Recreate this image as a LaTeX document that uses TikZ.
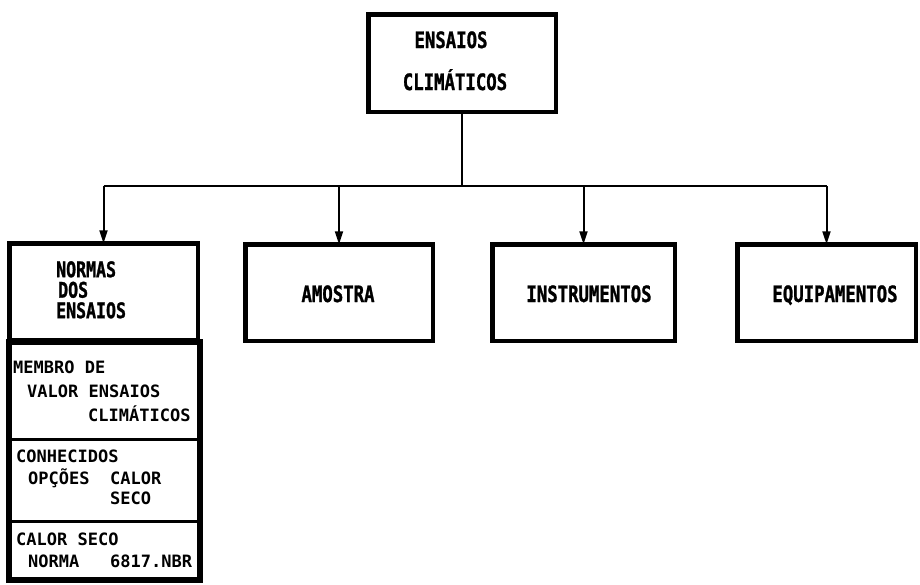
\documentclass[tikz,border=0pt]{standalone}
\usepackage{fontspec}
\usetikzlibrary{arrows.meta}
% heavy condensed face for the box titles, plain mono face for the list entries
\newfontfamily\titlefont{DejaVu Sans Mono Bold}[FakeStretch=0.77,FakeBold=1.2]
\newfontfamily\listfont{DejaVu Sans Mono Bold}
\begin{document}
\begin{tikzpicture}[x=1pt,y=-1pt,
  box/.style={draw=black,line width=4.5pt,inner sep=0pt,outer sep=0pt,fill=white},
  cell/.style={inner sep=0pt,outer sep=0pt},
  title/.style={inner sep=0pt,text height=16.5pt,text depth=0.5pt,
    font=\titlefont\fontsize{22.5}{22.5}\selectfont},
  entry/.style={inner sep=0pt,anchor=base west,text height=13pt,text depth=3pt,
    font=\listfont\fontsize{17}{17}\selectfont},
  link/.style={line width=2pt},
  arr/.style={line width=2pt,-{Triangle[width=8pt,length=13pt]}},
  sep/.style={line width=3pt,line cap=round},
  frame/.style={line width=5.5pt}]
  \fill[white] (0,0) rectangle (920,584);
  \useasboundingbox (0,0) rectangle (920,584);

  % root box
  \node[box,minimum width=187.5pt,minimum height=97.5pt] (root) at (462,63) {};
  \node[title,anchor=base] (rootA) at (451,48) {ENSAIOS};
  \node[title,anchor=base] (rootB) at (455,90) {CLIMÁTICOS};

  % second level boxes
  \node[box,minimum width=188.5pt,minimum height=96.5pt] (norm) at (103.5,291.5) {};
  \node[box,minimum width=187.5pt,minimum height=96.5pt] (amos) at (339,292.5) {};
  \node[box,minimum width=182.5pt,minimum height=96.5pt] (inst) at (583.5,292.5) {};
  \node[box,minimum width=178.5pt,minimum height=96.5pt] (equi) at (826.5,292.5) {};

  % three-line title set as one block
  \node[inner sep=0pt,anchor=north west,align=left,
    font=\titlefont\fontsize{21.5}{20.5}\selectfont] (normT) at (56,261)
    {NORMAS\\\hspace*{2pt}DOS\\ENSAIOS};
  \node[title,anchor=base] (amosT) at (338,302) {AMOSTRA};
  \node[title,anchor=base] (instT) at (589,302) {INSTRUMENTOS};
  \node[title,anchor=base] (equiT) at (835,302) {EQUIPAMENTOS};

  % connectors
  \coordinate (bus) at (462,186);
  \draw[link] (root.south) -- (root.south |- bus);
  \draw[link] (bus -| norm.north) -- (bus -| equi.north);
  \draw[arr] (bus -| norm.north) -- (norm.north);
  \draw[arr] (bus -| amos.north) -- (amos.north);
  \draw[arr] (bus -| inst.north) -- (inst.north);
  \draw[arr] (bus -| equi.north) -- (equi.north);

  % list of standards under the first box
  \node[cell,minimum width=191pt,minimum height=97pt] (sec1) at (104.5,390.5) {};
  \node[cell,minimum width=191pt,minimum height=82pt] (sec2) at (104.5,480) {};
  \node[cell,minimum width=191pt,minimum height=59pt] (sec3) at (104.5,550.5) {};
  \draw[sep] (sec1.south west) -- (sec1.south east);
  \draw[sep] (sec2.south west) -- (sec2.south east);
  \draw[frame] (sec1.north west) rectangle (sec3.south east);

  \node[entry] (e1a) at (13,373) {MEMBRO DE};
  \node[entry] (e1b) at (27,397) {VALOR ENSAIOS};
  \node[entry] (e1c) at (88,421) {CLIMÁTICOS};
  \node[entry] (e2a) at (16,462) {CONHECIDOS};
  \node[entry] (e2b) at (28,484) {OPÇÕES};
  \node[entry] (e2c) at (110,484) {CALOR};
  \node[entry] (e2d) at (110,504) {SECO};
  \node[entry] (e3a) at (16,545) {CALOR SECO};
  \node[entry] (e3b) at (28,567) {NORMA};
  \node[entry] (e3c) at (110,567) {6817.NBR};
\end{tikzpicture}
\end{document}
